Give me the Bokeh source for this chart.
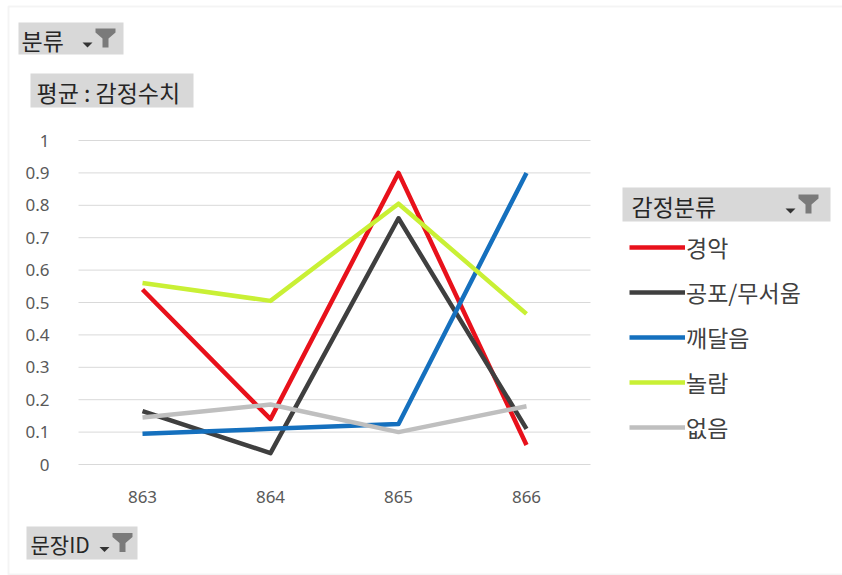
from bokeh.plotting import figure
from bokeh.models import (FixedTicker, Legend, LegendItem, BoxAnnotation, Label,
                          Range1d, LinearAxis, ColumnDataSource)
from bokeh.embed import file_html
from bokeh.resources import INLINE

# ---------------- data ----------------
sentence_ids = [863, 864, 865, 866]
series_names = ["경악", "공포/무서움", "깨달음", "놀람", "없음"]
shock = [0.54, 0.14, 0.90, 0.06]
fear = [0.165, 0.035, 0.76, 0.11]
realization = [0.095, 0.11, 0.125, 0.90]
surprise = [0.56, 0.505, 0.805, 0.465]
nothing = [0.145, 0.185, 0.10, 0.18]
series_values = [shock, fear, realization, surprise, nothing]
series_colors = ["#E8111B", "#3F3F3F", "#1570BE", "#C9F035", "#BFBFBF"]
y_ticks = [0, 0.1, 0.2, 0.3, 0.4, 0.5, 0.6, 0.7, 0.8, 0.9, 1]
y_tick_labels = ["0", "0.1", "0.2", "0.3", "0.4", "0.5", "0.6", "0.7", "0.8", "0.9", "1"]

W, H = 842, 575
KFONT = "Noto Sans CJK KR"
KSIZE = "23px"

# plot-area geometry (pixels, top-down) used to derive the ranges
PX_PER_ID = 128.0
FIRST_ID_PX = 142.0
PX_PER_UNIT = 324.0
ZERO_PX = 464.0

x_start = sentence_ids[0] - FIRST_ID_PX / PX_PER_ID
x_end = x_start + W / PX_PER_ID
y_start = -(H - ZERO_PX) / PX_PER_UNIT
y_end = y_start + H / PX_PER_UNIT

p = figure(width=W, height=H,
           x_range=Range1d(x_start, x_end), y_range=Range1d(y_start, y_end),
           x_axis_type=None, y_axis_type=None,
           min_border=0, output_backend="svg", toolbar_location=None,
           background_fill_color="white", border_fill_color="white",
           outline_line_color=None)
p.extra_x_ranges = {"px": Range1d(0, W)}
p.extra_y_ranges = {"px": Range1d(H, 0)}

# plot-area horizontal gridlines across the category band
x_lo = sentence_ids[0] - 0.5
x_hi = sentence_ids[-1] + 0.5
p.segment(x0=[x_lo] * len(y_ticks), x1=[x_hi] * len(y_ticks), y0=y_ticks, y1=y_ticks,
          line_color="#D9D9D9", line_width=1)

# axes drawn inside the canvas at fixed locations
yaxis = LinearAxis(fixed_location=x_lo, ticker=FixedTicker(ticks=y_ticks),
                   major_label_overrides=dict(zip(y_ticks, y_tick_labels)))
yaxis.axis_line_color = None
yaxis.major_tick_line_color = None
yaxis.minor_tick_line_color = None
yaxis.major_label_text_font = "Noto Sans"
yaxis.major_label_text_font_size = "17px"
yaxis.major_label_text_color = "#595959"
yaxis.major_label_standoff = 23
p.add_layout(yaxis, "left")

xaxis = LinearAxis(fixed_location=-0.05, ticker=FixedTicker(ticks=sentence_ids))
xaxis.axis_line_color = None
xaxis.major_tick_line_color = None
xaxis.minor_tick_line_color = None
xaxis.major_label_text_font = "Noto Sans"
xaxis.major_label_text_font_size = "17px"
xaxis.major_label_text_color = "#595959"
xaxis.major_label_standoff = 4
p.add_layout(xaxis, "below")

renderers = []
for name, vals, col in zip(series_names, series_values, series_colors):
    src = ColumnDataSource(dict(x=sentence_ids, y=vals))
    r = p.line("x", "y", source=src, line_color=col, line_width=4.5, line_join="round")
    renderers.append(r)

legend = Legend(items=[LegendItem(label=n, renderers=[r]) for n, r in zip(series_names, renderers)],
                location=(629, 131), orientation="vertical",
                glyph_width=56, glyph_height=24, label_height=24, spacing=11,
                padding=0, margin=0, label_standoff=1,
                border_line_color=None, background_fill_alpha=0,
                label_text_font=KFONT, label_text_font_size=KSIZE,
                label_text_color="#404040")
p.add_layout(legend)

# outer chart frame
p.add_layout(BoxAnnotation(left=8, right=W + 10, top=6, bottom=574,
                           x_range_name="px", y_range_name="px",
                           fill_alpha=0, line_color="#D9D9D9", line_width=2))

arrow_xs, arrow_ys, funnel_xs, funnel_ys = [], [], [], []


def button(x0, y0, x1, y1, text, tx, icon_x=None, size=KSIZE):
    p.add_layout(BoxAnnotation(left=x0, right=x1, top=y0, bottom=y1,
                               x_range_name="px", y_range_name="px",
                               fill_color="#D8D8D8", fill_alpha=1, line_color=None))
    p.add_layout(Label(x=tx, y=(y0 + y1) / 2 + 1, x_range_name="px", y_range_name="px",
                       text=text, text_baseline="middle", text_align="left",
                       text_font=KFONT, text_font_size=size, text_color="#262626"))
    if icon_x is not None:
        cy = (y0 + y1) / 2
        ax = icon_x
        arrow_xs.append([ax, ax + 10, ax + 5])
        arrow_ys.append([cy + 4, cy + 4, cy + 9])
        fx = ax + 13
        fy = cy - 10
        funnel_xs.append([fx, fx + 20, fx + 20, fx + 13, fx + 13, fx + 7, fx + 7, fx])
        funnel_ys.append([fy, fy, fy + 4, fy + 10, fy + 19, fy + 19, fy + 10, fy + 4])


button(18, 22, 123, 54, "분류", 21, icon_x=82)
button(30, 73, 193, 107, "평균 : 감정수치", 36)
button(26, 526, 137, 559, "문장ID", 30, icon_x=99, size="21px")
button(622, 187, 830, 221, "감정분류", 631, icon_x=785)

p.patches(xs=arrow_xs, ys=arrow_ys, x_range_name="px", y_range_name="px",
          fill_color="#333333", line_color=None, level="overlay")
p.patches(xs=funnel_xs, ys=funnel_ys, x_range_name="px", y_range_name="px",
          fill_color="#7A7A7A", line_color=None, level="overlay")

open("out.html", "w").write(file_html(p, INLINE))
